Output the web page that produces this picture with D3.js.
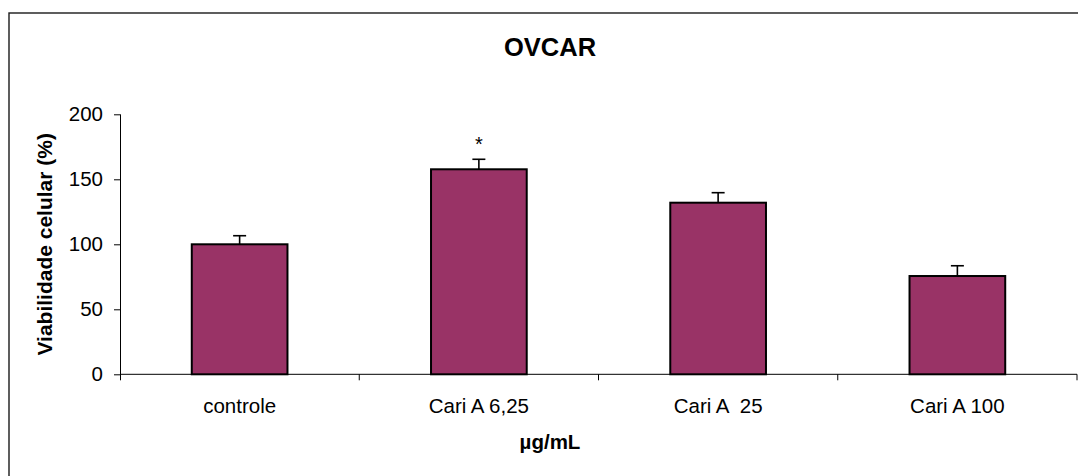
<!DOCTYPE html>
<html>
<head>
<meta charset="utf-8">
<script src="https://cdn.jsdelivr.net/npm/d3@7"></script>
<style>
  html, body { margin: 0; padding: 0; background: #fff; }
  svg { display: block; font-family: "Liberation Sans", Arial, sans-serif; }
</style>
</head>
<body>
<svg id="chart" width="1078" height="476"></svg>
<script>
// Cell viability (%) of OVCAR cells per treatment, mean and upper error
const categories = ["controle", "Cari A 6,25", "Cari A  25", "Cari A 100"];
const viability = [100, 157.7, 132, 75.6];
const errors = [6.6, 7.7, 7.7, 7.9];
const significant = [false, true, false, false];
const yTicks = [0, 50, 100, 150, 200];

const svg = d3.select("#chart");
const W = 1078, H = 476;

// outer frame
svg.append("rect")
  .attr("x", 9).attr("y", 13)
  .attr("width", W + 20).attr("height", H + 20)
  .attr("fill", "none").attr("stroke", "#1a1a1a").attr("stroke-width", 1.4);

const plot = { left: 120, right: 1077, top: 114.3, bottom: 374.3 };

const x = d3.scaleBand()
  .domain(categories)
  .range([plot.left, plot.right])
  .paddingInner(0).paddingOuter(0);

const y = d3.scaleLinear()
  .domain([0, 200])
  .range([plot.bottom, plot.top]);

// y axis
const yAxis = d3.axisLeft(y)
  .tickValues(yTicks)
  .tickSize(6)
  .tickPadding(11)
  .tickFormat(d3.format("d"));

const gy = svg.append("g")
  .attr("transform", `translate(${plot.left},0)`)
  .call(yAxis);
gy.select(".domain").remove();
gy.append("line")
  .attr("x1", 0.5).attr("x2", 0.5)
  .attr("y1", y(200)).attr("y2", plot.bottom + 6)
  .attr("stroke", "#000").attr("stroke-width", 1);
gy.selectAll(".tick line").attr("stroke", "#000").attr("x2", -6);
gy.selectAll(".tick text")
  .attr("fill", "#000")
  .style("font-size", "20.5px");

// x axis: labels at band centres, ticks at band boundaries
const gx = svg.append("g")
  .attr("transform", `translate(0,${plot.bottom})`);
gx.append("line")
  .attr("x1", plot.left).attr("x2", plot.right)
  .attr("y1", 0).attr("y2", 0)
  .attr("stroke", "#000").attr("stroke-width", 1);
const boundaries = categories.map(c => x(c)).concat([x.range()[1]]);
gx.selectAll("line.bound")
  .data(boundaries.slice(1))
  .enter().append("line")
  .attr("class", "bound")
  .attr("x1", d => d).attr("x2", d => d)
  .attr("y1", 0).attr("y2", 6)
  .attr("stroke", "#000").attr("stroke-width", 1);
gx.selectAll("text.cat")
  .data(categories)
  .enter().append("text")
  .attr("class", "cat")
  .attr("x", d => x(d) + x.bandwidth() / 2)
  .attr("y", 38.4)
  .attr("text-anchor", "middle")
  .attr("xml:space", "preserve")
  .style("white-space", "pre")
  .style("font-size", "20.5px")
  .attr("fill", "#000")
  .text(d => d);

// bars
const barW = x.bandwidth() * 0.4;
const data = categories.map((c, i) => ({ c, v: viability[i], e: errors[i], s: significant[i] }));

svg.selectAll("rect.bar")
  .data(data)
  .enter().append("rect")
  .attr("class", "bar")
  .attr("x", d => x(d.c) + (x.bandwidth() - barW) / 2)
  .attr("y", d => y(d.v))
  .attr("width", barW)
  .attr("height", d => y(0) - y(d.v))
  .attr("fill", "#993366")
  .attr("stroke", "#000")
  .attr("stroke-width", 2);

// upper error bars
const err = svg.selectAll("g.err")
  .data(data)
  .enter().append("g")
  .attr("class", "err");
err.append("line")
  .attr("x1", d => x(d.c) + x.bandwidth() / 2)
  .attr("x2", d => x(d.c) + x.bandwidth() / 2)
  .attr("y1", d => y(d.v))
  .attr("y2", d => y(d.v + d.e))
  .attr("stroke", "#000").attr("stroke-width", 1.6);
err.append("line")
  .attr("x1", d => x(d.c) + x.bandwidth() / 2 - 6.5)
  .attr("x2", d => x(d.c) + x.bandwidth() / 2 + 6.5)
  .attr("y1", d => y(d.v + d.e))
  .attr("y2", d => y(d.v + d.e))
  .attr("stroke", "#000").attr("stroke-width", 1.6);

// significance marker
svg.selectAll("text.sig")
  .data(data.filter(d => d.s))
  .enter().append("text")
  .attr("class", "sig")
  .attr("x", d => x(d.c) + x.bandwidth() / 2)
  .attr("y", d => y(d.v + d.e) - 8)
  .attr("text-anchor", "middle")
  .style("font-size", "20px")
  .attr("fill", "#000")
  .text("*");

// title
svg.append("text")
  .attr("x", 550).attr("y", 56)
  .attr("text-anchor", "middle")
  .style("font-size", "25.5px").style("font-weight", "bold")
  .attr("fill", "#000")
  .text("OVCAR");

// axis titles
svg.append("text")
  .attr("transform", `translate(52,${(plot.top + plot.bottom) / 2}) rotate(-90)`)
  .attr("text-anchor", "middle")
  .style("font-size", "21px").style("font-weight", "bold")
  .attr("fill", "#000")
  .text("Viabilidade celular (%)");

svg.append("text")
  .attr("x", 550).attr("y", 449)
  .attr("text-anchor", "middle")
  .style("font-size", "20.5px").style("font-weight", "bold")
  .attr("fill", "#000")
  .text("µg/mL");
</script>
</body>
</html>
